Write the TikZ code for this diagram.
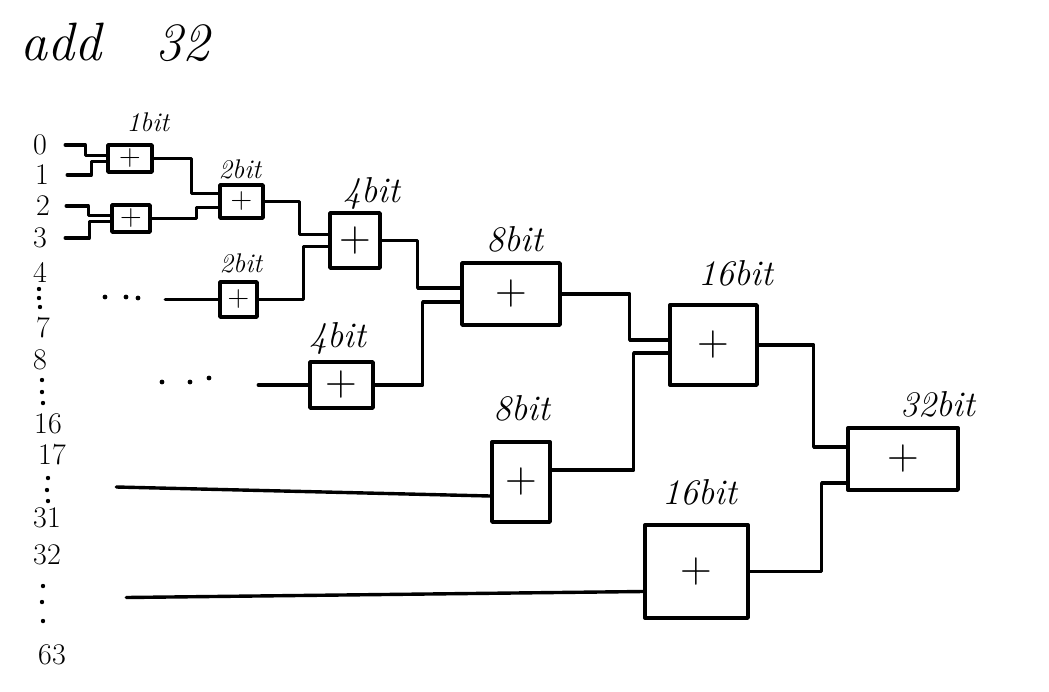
\documentclass[tikz,border=0pt]{standalone}
\usetikzlibrary{calc}
\begin{document}
\begin{tikzpicture}[x=1pt,y=-1pt,
  adder/.style={draw, line width=3.4pt, inner sep=0pt, line join=round},
  wire/.style={line width=3.4pt, line cap=round, line join=round},
  num/.style={minimum width=30pt, inner sep=0pt, font=\fontsize{30}{30}\selectfont},
  lbl/.style={font=\fontsize{36}{36}\selectfont\itshape},
  lbls/.style={font=\fontsize{27}{27}\selectfont\itshape},
  plus/.style={font=\fontsize{44}{44}\selectfont},
  pluss/.style={font=\fontsize{30}{30}\selectfont}
]
\useasboundingbox (0,0) rectangle (1049,691);

% title
\node[font=\fontsize{54}{54}\selectfont\itshape] (title) at (115,42) {add\quad 32};

% input numbers
\node[num] (n0) at (40,145) {0};
\node[num] (n1) at (42,175) {1};
\node[num] (n2) at (43,206) {2};
\node[num] (n3) at (40,238) {3};
\node[num] (n4) at (40,272) {4};
\node[num] (n7) at (43,328) {7};
\node[num] (n8) at (40,360) {8};
\node[num] (n16) at (48,424) {16};
\node[num] (n17) at (52,455) {17};
\node[num] (n31) at (47,518) {31};
\node[num] (n32) at (47,555) {32};
\node[num] (n63) at (52,655) {63};

% vertical dots
\foreach \x/\y in {39/289, 39/298, 40/307, 42/380, 42/392, 43/403, 48/478, 47/490, 48/501, 43/586, 42/602, 43/621}
  \fill (\x,\y) circle (2.2);
% horizontal dots
\foreach \x/\y in {105/297, 126/297, 138/298, 162/382, 190/382, 209/378}
  \fill (\x,\y) circle (2.4);

% adders
\node[adder, minimum width=44pt, minimum height=27pt, pluss] (A) at (130,158.5) {+};
\node[adder, minimum width=38pt, minimum height=27pt, pluss] (B) at (131,218.5) {+};
\node[adder, minimum width=43pt, minimum height=33pt, pluss] (C) at (241.5,201.5) {+};
\node[adder, minimum width=50pt, minimum height=55pt, plus] (D) at (355,240.5) {+};
\node[adder, minimum width=37pt, minimum height=35pt, pluss] (E) at (238.5,299.5) {+};
\node[adder, minimum width=63pt, minimum height=46pt, plus] (F) at (341.5,385) {+};
\node[adder, minimum width=98pt, minimum height=62pt, plus] (G) at (511,294) {+};
\node[adder, minimum width=58pt, minimum height=80pt, plus] (H) at (521,482) {+};
\node[adder, minimum width=87pt, minimum height=80pt, plus] (I) at (713.5,345) {+};
\node[adder, minimum width=103pt, minimum height=93pt, plus] (J) at (696.5,571.5) {+};
\node[adder, minimum width=110pt, minimum height=62pt, plus] (K) at (903,459) {+};

% labels
\node[lbls] (lA) at (148,122) {1bit};
\node[lbls] (lC) at (240,169) {2bit};
\node[lbls] (lE) at (241,263) {2bit};
\node[lbl] (lD) at (372,193) {4bit};
\node[lbl] (lF) at (338,338) {4bit};
\node[lbl] (lG) at (515,239) {8bit};
\node[lbl] (lH) at (522,408) {8bit};
\node[lbl] (lI) at (736,273) {16bit};
\node[lbl] (lJ) at (700,492) {16bit};
\node[lbl] (lK) at (938,404) {32bit};

% wires: level 1
\draw[wire] ([xshift=10pt]n0.east) -- ++(20,0) |- ([yshift=3pt]A.west);
\draw[wire] ([xshift=10pt]n1.east) -- ++(24,0) |- ([yshift=-3pt]A.west);
\draw[wire] ([xshift=8pt]n2.east) -- ++(22,0) |- ([yshift=3pt]B.west);
\draw[wire] ([xshift=10pt]n3.east) -- ++(24,0) |- ([yshift=-3pt]B.west);

% level 2
\draw[wire] (A.east) -- ++(38,0) |- ([yshift=8pt]C.west);
\draw[wire] (B.east) -- ++(45,0) |- ([yshift=-6pt]C.west);
\draw[wire] (E.west) -- ++(-53,0);

% level 3
\draw[wire] (C.east) -- ++(35,0) |- ([yshift=6pt]D.west);
\draw[wire] (E.east) -- ++(45,0) |- ([yshift=-6pt]D.west);
\draw[wire] (F.west) -- ++(-50,0);

% level 4
\draw[wire] (D.east) -- ++(36,0) |- ([yshift=6pt]G.west);
\draw[wire] (F.east) -- ++(48,0) |- ([yshift=-8pt]G.west);
\draw[wire] ([yshift=-14pt]H.west) -- ++(-374,-9);

% level 5
\draw[wire] (G.east) -- ++(68,0) |- ([yshift=5pt]I.west);
\draw[wire] ([yshift=12pt]H.east) -- ++(82,0) |- ([yshift=-8pt]I.west);
\draw[wire] ([yshift=-20pt]J.west) -- ++(-517,6);

% level 6
\draw[wire] (I.east) -- ++(55,0) |- ([yshift=12pt]K.west);
\draw[wire] (J.east) -- ++(72,0) |- ([yshift=-24pt]K.west);
\end{tikzpicture}
\end{document}
